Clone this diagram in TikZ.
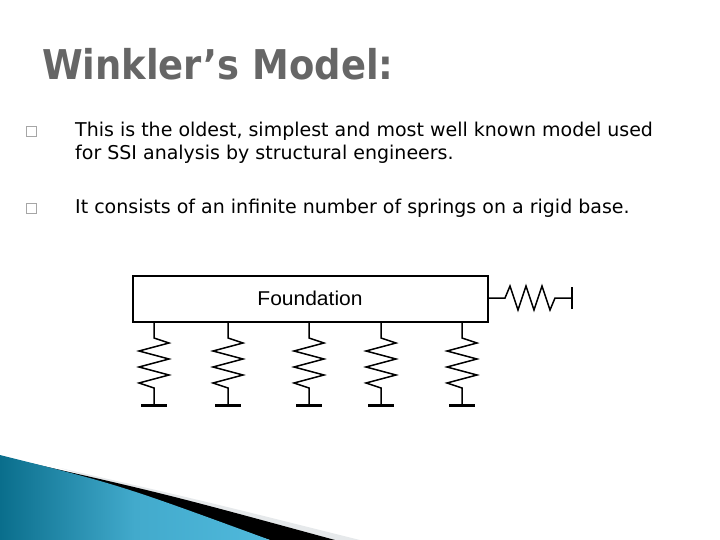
\documentclass[tikz,border=0pt]{standalone}
\usepackage{fontspec}
\setmainfont{DejaVu Sans}
\newfontfamily\arialf{Liberation Sans}
\newfontfamily\condf{DejaVu Sans Condensed}
\begin{document}
\begin{tikzpicture}[x=1pt,y=-1pt,
  body/.style={font=\fontsize{19}{21}\selectfont, anchor=west, inner sep=0pt},
  bul/.style={draw=gray!70, line width=0.5pt, minimum size=10pt, inner sep=0pt},
  wire/.style={line width=1.5pt},
  gnd/.style={line width=3pt}]
\useasboundingbox (0,0) rectangle (720,540);
% decoration
\fill[cyan!10!gray!20] (60,468) .. controls (200,500) .. (360,540) -- (300,540) -- cycle;
\fill[black] (30,463) .. controls (170,495) .. (335,540) -- (270,540) -- cycle;
\definecolor{tealA}{RGB}{10,110,140}
\definecolor{tealB}{RGB}{80,185,220}
\shade[left color=tealA, right color=tealB, middle color=tealB!80!tealA] (0,455) .. controls (120,485) .. (270,540) -- (0,540) -- cycle;
% title
\node[anchor=west, inner sep=0pt, text=gray!80!black, font=\condf\fontsize{41}{44}\selectfont\bfseries] (title) at (42,64) {Winkler’s Model:};
% bullets
\node[bul] (b1) at (31,131) {};
\node[bul] (b2) at (31,208) {};
\node[body] (t1) at (75,131) {This is the oldest, simplest and most well known model used};
\node[body] (t1b) at (75,154) {for SSI analysis by structural engineers.};
\node[body] (t2) at (75,208) {It consists of an infinite number of springs on a rigid base.};
% foundation
\node[draw, line width=1.5pt, minimum width=355pt, minimum height=46pt, inner sep=0pt] (f) at (310.5,299) {};
\node[font=\arialf\fontsize{20}{22}\selectfont, xscale=1.05] (ft) at (310,298) {Foundation};
\foreach \i/\x in {1/154,2/228,3/309,4/381,5/462}{
  \coordinate (s\i) at (\x,322);
  \draw[wire,line join=miter] (s\i) -- ++(0,16) -- ++(15,5) -- ++(-30,8) -- ++(30,8) -- ++(-30,8) -- ++(30,8) -- ++(-30,8) -- ++(15,5) -- ++(0,17) coordinate (g\i);
  \draw[gnd] ([xshift=-13pt]g\i) -- ([xshift=13pt]g\i);
}
\coordinate (h0) at (488,298);
\draw[wire] (h0) -- ++(17,0) -- ++(5,-12) -- ++(8,24) -- ++(8,-24) -- ++(8,24) -- ++(8,-24) -- ++(8,24) -- ++(5,-12) -- ++(17,0) coordinate (hg);
\draw[line width=2.5pt] ([yshift=-11pt]hg) -- ([yshift=11pt]hg);
\end{tikzpicture}
\end{document}
